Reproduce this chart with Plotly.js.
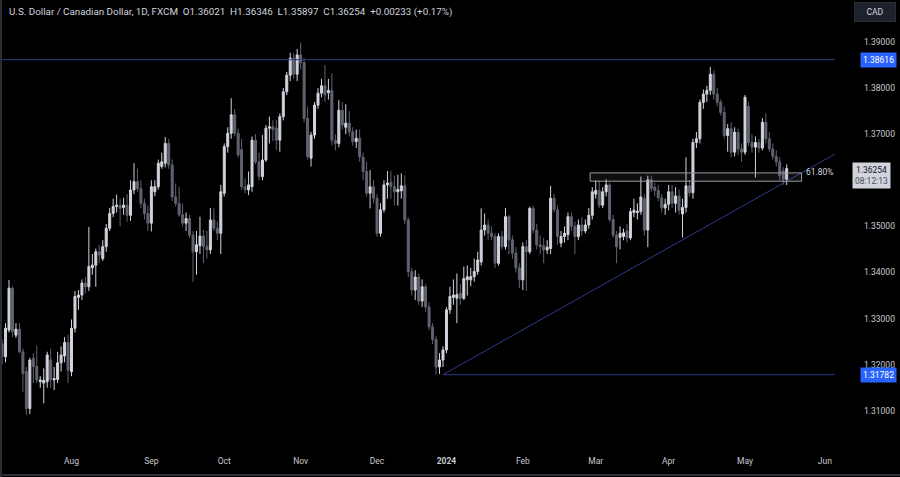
<!DOCTYPE html>
<html><head><meta charset="utf-8">
<script src="https://cdn.plot.ly/plotly-3.0.1.min.js"></script>
<style>html,body{margin:0;padding:0;background:#000;}#chart{width:900px;height:477px;}</style>
</head><body><div id="chart"></div>
<script>
// Trading days (FXCM daily bars)
const dates = [
'2023-07-03','2023-07-04','2023-07-05','2023-07-06','2023-07-07','2023-07-10','2023-07-11','2023-07-12','2023-07-13','2023-07-14','2023-07-17','2023-07-18','2023-07-19','2023-07-20','2023-07-21','2023-07-24','2023-07-25','2023-07-26','2023-07-27','2023-07-28','2023-07-31',
'2023-08-01','2023-08-02','2023-08-03','2023-08-04','2023-08-07','2023-08-08','2023-08-09','2023-08-10','2023-08-11','2023-08-14','2023-08-15','2023-08-16','2023-08-17','2023-08-18','2023-08-21','2023-08-22','2023-08-23','2023-08-24','2023-08-25','2023-08-28','2023-08-29','2023-08-30','2023-08-31',
'2023-09-01','2023-09-04','2023-09-05','2023-09-06','2023-09-07','2023-09-08','2023-09-11','2023-09-12','2023-09-13','2023-09-14','2023-09-15','2023-09-18','2023-09-19','2023-09-20','2023-09-21','2023-09-22','2023-09-25','2023-09-26','2023-09-27','2023-09-28','2023-09-29',
'2023-10-02','2023-10-03','2023-10-04','2023-10-05','2023-10-06','2023-10-09','2023-10-10','2023-10-11','2023-10-12','2023-10-13','2023-10-16','2023-10-17','2023-10-18','2023-10-19','2023-10-20','2023-10-23','2023-10-24','2023-10-25','2023-10-26','2023-10-27','2023-10-30','2023-10-31',
'2023-11-01','2023-11-02','2023-11-03','2023-11-06','2023-11-07','2023-11-08','2023-11-09','2023-11-10','2023-11-13','2023-11-14','2023-11-15','2023-11-16','2023-11-17','2023-11-20','2023-11-21','2023-11-22','2023-11-23','2023-11-24','2023-11-27','2023-11-28','2023-11-29','2023-11-30',
'2023-12-01','2023-12-04','2023-12-05','2023-12-06','2023-12-07','2023-12-08','2023-12-11','2023-12-12','2023-12-13','2023-12-14','2023-12-15','2023-12-18','2023-12-19','2023-12-20','2023-12-21','2023-12-22','2023-12-26','2023-12-27','2023-12-28','2023-12-29',
'2024-01-02','2024-01-03','2024-01-04','2024-01-05','2024-01-08','2024-01-09','2024-01-10','2024-01-11','2024-01-12','2024-01-15','2024-01-16','2024-01-17','2024-01-18','2024-01-19','2024-01-22','2024-01-23','2024-01-24','2024-01-25','2024-01-26','2024-01-29','2024-01-30','2024-01-31',
'2024-02-01','2024-02-02','2024-02-05','2024-02-06','2024-02-07','2024-02-08','2024-02-09','2024-02-12','2024-02-13','2024-02-14','2024-02-15','2024-02-16','2024-02-19','2024-02-20','2024-02-21','2024-02-22','2024-02-23','2024-02-26','2024-02-27','2024-02-28','2024-02-29',
'2024-03-01','2024-03-04','2024-03-05','2024-03-06','2024-03-07','2024-03-08','2024-03-11','2024-03-12','2024-03-13','2024-03-14','2024-03-15','2024-03-18','2024-03-19','2024-03-20','2024-03-21','2024-03-22','2024-03-25','2024-03-26','2024-03-27','2024-03-28','2024-03-29',
'2024-04-01','2024-04-02','2024-04-03','2024-04-04','2024-04-05','2024-04-08','2024-04-09','2024-04-10','2024-04-11','2024-04-12','2024-04-15','2024-04-16','2024-04-17','2024-04-18','2024-04-19','2024-04-22','2024-04-23','2024-04-24','2024-04-25','2024-04-26','2024-04-29','2024-04-30',
'2024-05-01','2024-05-02','2024-05-03','2024-05-06','2024-05-07','2024-05-08','2024-05-09','2024-05-10','2024-05-13','2024-05-14','2024-05-15','2024-05-16','2024-05-17'
];
const open = [
1.3240,1.3246,1.3217,1.3275,1.3366,1.3264,1.3277,1.3228,1.3185,1.3105,1.3214,1.3196,1.3163,1.3160,1.3163,1.3210,1.3167,1.3168,1.3204,1.3219,1.3248,
1.3185,1.3279,1.3346,1.3351,1.3377,1.3369,1.3410,1.3416,1.3445,1.3430,1.3456,1.3496,1.3528,1.3543,1.3546,1.3541,1.3546,1.3524,1.3579,1.3597,1.3582,1.3550,1.3528,
1.3507,1.3575,1.3586,1.3630,1.3637,1.3680,1.3633,1.3564,1.3550,1.3525,1.3507,1.3517,1.3481,1.3445,1.3458,1.3479,1.3456,1.3449,1.3514,1.3496,1.3485,
1.3572,1.3673,1.3702,1.3742,1.3702,1.3666,1.3586,1.3579,1.3586,1.3687,1.3640,1.3608,1.3644,1.3713,1.3716,1.3713,1.3687,1.3738,1.3792,1.3828,1.3865,1.3830,
1.3872,1.3855,1.3734,1.3648,1.3698,1.3763,1.3789,1.3805,1.3790,1.3795,1.3687,1.3680,1.3752,1.3715,1.3724,1.3705,1.3684,1.3691,1.3650,1.3619,1.3572,1.3586,
1.3561,1.3485,1.3536,1.3590,1.3596,1.3586,1.3575,1.3577,1.3588,1.3514,1.3402,1.3362,1.3390,1.3338,1.3369,1.3325,1.3282,1.3255,1.3195,1.3210,
1.3232,1.3319,1.3346,1.3344,1.3355,1.3344,1.3384,1.3384,1.3391,1.3402,1.3423,1.3492,1.3503,1.3485,1.3478,1.3420,1.3478,1.3456,1.3521,1.3471,1.3442,1.3410,
1.3384,1.3456,1.3445,1.3539,1.3492,1.3460,1.3458,1.3449,1.3452,1.3561,1.3536,1.3464,1.3478,1.3482,1.3521,1.3500,1.3478,1.3503,1.3490,1.3503,1.3524,
1.3570,1.3578,1.3546,1.3575,1.3590,1.3515,1.3481,1.3476,1.3478,1.3490,1.3475,1.3530,1.3530,1.3532,1.3560,1.3492,1.3601,1.3585,1.3578,1.3562,1.3540,
1.3548,1.3575,1.3550,1.3566,1.3527,1.3541,1.3588,1.3573,1.3682,1.3690,1.3769,1.3787,1.3795,1.3830,1.3787,1.3769,1.3747,1.3697,1.3712,1.3661,1.3704,1.3668,
1.3661,1.3760,1.3682,1.3672,1.3682,1.3670,1.3726,1.3690,1.3668,1.3652,1.3640,1.3620,1.36021
];
const high = [
1.3262,1.3255,1.3290,1.3384,1.3370,1.3290,1.3290,1.3235,1.3195,1.3215,1.3225,1.3241,1.3175,1.3192,1.3228,1.3235,1.3195,1.3228,1.3240,1.3260,1.3265,
1.3298,1.3360,1.3362,1.3385,1.3390,1.3499,1.3440,1.3452,1.3460,1.3470,1.3505,1.3540,1.3560,1.3569,1.3560,1.3562,1.3570,1.3600,1.3637,1.3625,1.3600,1.3560,1.3545,
1.3600,1.3600,1.3645,1.3660,1.3694,1.3690,1.3645,1.3593,1.3586,1.3550,1.3530,1.3525,1.3490,1.3490,1.3521,1.3492,1.3490,1.3540,1.3539,1.3510,1.3590,
1.3680,1.3715,1.3778,1.3755,1.3712,1.3690,1.3604,1.3619,1.3695,1.3700,1.3660,1.3698,1.3720,1.3738,1.3730,1.3731,1.3745,1.3800,1.3835,1.3877,1.3875,1.3885,
1.3899,1.3865,1.3760,1.3705,1.3770,1.3800,1.3820,1.3850,1.3820,1.3832,1.3700,1.3774,1.3770,1.3765,1.3750,1.3715,1.3710,1.3710,1.3660,1.3640,1.3622,1.3600,
1.3570,1.3550,1.3600,1.3620,1.3620,1.3610,1.3612,1.3615,1.3611,1.3520,1.3410,1.3405,1.3398,1.3385,1.3375,1.3335,1.3290,1.3262,1.3225,1.3240,
1.3325,1.3369,1.3385,1.3398,1.3375,1.3413,1.3415,1.3410,1.3430,1.3445,1.3539,1.3528,1.3515,1.3500,1.3485,1.3485,1.3490,1.3540,1.3525,1.3480,1.3455,1.3420,
1.3465,1.3470,1.3543,1.3545,1.3505,1.3480,1.3475,1.3470,1.3588,1.3570,1.3545,1.3490,1.3500,1.3530,1.3530,1.3510,1.3515,1.3520,1.3515,1.3540,1.3585,
1.3600,1.3600,1.3585,1.3602,1.3595,1.3525,1.3490,1.3500,1.3495,1.3505,1.3540,1.3560,1.3550,1.3608,1.3570,1.3610,1.3610,1.3595,1.3590,1.3570,1.3560,
1.3590,1.3590,1.3585,1.3580,1.3560,1.3650,1.3600,1.3690,1.3705,1.3775,1.3797,1.3805,1.3846,1.3838,1.3800,1.3775,1.3760,1.3722,1.3726,1.3715,1.3712,1.3680,
1.3785,1.3770,1.3700,1.3695,1.3690,1.3735,1.3745,1.3705,1.3680,1.3665,1.3650,1.3628,1.36346
];
const low = [
1.3225,1.3200,1.3205,1.3270,1.3260,1.3258,1.3225,1.3141,1.3091,1.3093,1.3160,1.3160,1.3150,1.3116,1.3150,1.3150,1.3145,1.3160,1.3185,1.3205,1.3160,
1.3175,1.3270,1.3319,1.3340,1.3355,1.3360,1.3395,1.3369,1.3420,1.3425,1.3445,1.3490,1.3520,1.3530,1.3500,1.3525,1.3510,1.3512,1.3570,1.3575,1.3540,1.3515,1.3490,
1.3489,1.3565,1.3580,1.3625,1.3628,1.3625,1.3555,1.3543,1.3521,1.3500,1.3490,1.3475,1.3380,1.3395,1.3440,1.3420,1.3430,1.3440,1.3490,1.3470,1.3440,
1.3565,1.3660,1.3690,1.3695,1.3650,1.3579,1.3572,1.3568,1.3575,1.3635,1.3600,1.3600,1.3640,1.3680,1.3685,1.3666,1.3662,1.3730,1.3785,1.3815,1.3820,1.3815,
1.3840,1.3725,1.3645,1.3630,1.3690,1.3755,1.3780,1.3770,1.3775,1.3676,1.3665,1.3672,1.3710,1.3700,1.3695,1.3675,1.3670,1.3640,1.3600,1.3565,1.3539,1.3550,
1.3477,1.3478,1.3530,1.3560,1.3560,1.3545,1.3545,1.3560,1.3505,1.3390,1.3350,1.3340,1.3330,1.3325,1.3315,1.3275,1.3245,1.3178,1.3180,1.3195,
1.3225,1.3310,1.3330,1.3290,1.3330,1.3340,1.3350,1.3370,1.3380,1.3395,1.3415,1.3480,1.3470,1.3470,1.3410,1.3415,1.3450,1.3450,1.3440,1.3430,1.3400,1.3366,
1.3362,1.3360,1.3440,1.3485,1.3450,1.3440,1.3420,1.3440,1.3440,1.3530,1.3460,1.3455,1.3465,1.3470,1.3490,1.3440,1.3470,1.3480,1.3485,1.3495,1.3515,
1.3560,1.3540,1.3540,1.3565,1.3510,1.3475,1.3420,1.3450,1.3470,1.3465,1.3470,1.3520,1.3515,1.3525,1.3480,1.3455,1.3575,1.3565,1.3555,1.3530,1.3525,
1.3535,1.3540,1.3530,1.3525,1.3476,1.3530,1.3565,1.3560,1.3670,1.3680,1.3755,1.3770,1.3785,1.3775,1.3760,1.3740,1.3690,1.3662,1.3650,1.3652,1.3655,1.3640,
1.3655,1.3675,1.3660,1.3606,1.3660,1.3665,1.3680,1.3662,1.3645,1.3630,1.3600,1.3590,1.35897
];
const close = [
1.3246,1.3217,1.3279,1.3366,1.3272,1.3277,1.3228,1.3181,1.3105,1.3210,1.3196,1.3167,1.3167,1.3166,1.3221,1.3167,1.3170,1.3204,1.3221,1.3248,1.3188,
1.3279,1.3348,1.3351,1.3377,1.3369,1.3413,1.3416,1.3445,1.3438,1.3456,1.3496,1.3528,1.3543,1.3546,1.3539,1.3546,1.3524,1.3579,1.3597,1.3582,1.3550,1.3528,1.3507,
1.3586,1.3586,1.3637,1.3640,1.3680,1.3633,1.3564,1.3550,1.3525,1.3507,1.3517,1.3481,1.3445,1.3460,1.3479,1.3456,1.3449,1.3514,1.3496,1.3485,1.3575,
1.3673,1.3702,1.3742,1.3702,1.3655,1.3586,1.3580,1.3590,1.3687,1.3640,1.3608,1.3644,1.3713,1.3716,1.3710,1.3687,1.3738,1.3792,1.3828,1.3865,1.3830,1.3872,
1.3855,1.3734,1.3651,1.3698,1.3763,1.3789,1.3805,1.3785,1.3795,1.3687,1.3680,1.3752,1.3720,1.3724,1.3705,1.3684,1.3691,1.3651,1.3619,1.3572,1.3586,1.3561,
1.3485,1.3536,1.3590,1.3594,1.3586,1.3575,1.3580,1.3588,1.3514,1.3402,1.3362,1.3390,1.3338,1.3369,1.3325,1.3282,1.3255,1.3195,1.3210,1.3232,
1.3319,1.3348,1.3351,1.3352,1.3344,1.3387,1.3391,1.3391,1.3402,1.3427,1.3492,1.3503,1.3485,1.3478,1.3420,1.3478,1.3456,1.3521,1.3471,1.3442,1.3410,1.3384,
1.3456,1.3445,1.3539,1.3492,1.3460,1.3456,1.3449,1.3455,1.3561,1.3536,1.3478,1.3478,1.3485,1.3521,1.3500,1.3478,1.3503,1.3490,1.3503,1.3524,1.3575,
1.3578,1.3546,1.3575,1.3590,1.3515,1.3481,1.3456,1.3485,1.3486,1.3475,1.3532,1.3535,1.3533,1.3564,1.3492,1.3601,1.3582,1.3578,1.3562,1.3540,1.3548,
1.3575,1.3550,1.3566,1.3535,1.3541,1.3588,1.3573,1.3682,1.3690,1.3769,1.3787,1.3795,1.3830,1.3787,1.3769,1.3747,1.3697,1.3712,1.3661,1.3704,1.3668,1.3661,
1.3780,1.3682,1.3672,1.3682,1.3670,1.3726,1.3690,1.3668,1.3652,1.3640,1.3610,1.36021,1.36254
];
const holidays = ['2023-12-25','2024-01-01'];
const monthTickDates = ['2023-08-01','2023-09-01','2023-10-02','2023-11-01','2023-12-01','2024-01-02','2024-02-01','2024-03-01','2024-04-01','2024-05-01','2024-06-03'];
const monthTickText = ['Aug','Sep','Oct','Nov','Dec','<b>2024</b>','Feb','Mar','Apr','May','Jun'];
const priceTicks = [1.31,1.32,1.33,1.34,1.35,1.37,1.38,1.39];
// Drawings
const resistance = 1.38616;
const support = 1.31782;
const drawStart = '2023-12-29 12:00';
const trendEnd = ['2024-06-06 10:00', 1.3657];
const zone = {x0:'2024-02-28 21:00', x1:'2024-05-23 19:00', y0:1.3598, y1:1.3616, label:'61.80%'};
const countdown = '08:12:13';

const xRange = ['2023-07-03 21:40','2024-06-06 10:00'];
const yRange = [1.30366, 1.39911];
const FONT = 'Roboto, "Liberation Sans", Arial, sans-serif';

const n = close.length;
const lastO = open[n-1], lastH = high[n-1], lastL = low[n-1], lastC = close[n-1];
const chg = lastC - close[n-2];
const pct = chg / close[n-2] * 100;
const sp = '\u00a0\u00a0';
const title = 'U.S. Dollar / Canadian Dollar, 1D, FXCM' + sp + 'O' + lastO.toFixed(5) + sp + 'H' + lastH.toFixed(5) + sp + 'L' + lastL.toFixed(5) + sp + 'C' + lastC.toFixed(5) + sp + (chg>=0?'+':'') + chg.toFixed(5) + ' (' + (pct>=0?'+':'') + pct.toFixed(2) + '%)';

const trace = {
  type:'candlestick',
  x: dates.map(d => d + ' 12:00'),
  open, high, low, close,
  increasing:{line:{color:'#d1d4dc', width:1}, fillcolor:'#d1d4dc'},
  decreasing:{line:{color:'#606370', width:1}, fillcolor:'#606370'},
  whiskerwidth:0,
  hoverinfo:'skip'
};

const lineCol = '#2f3a8a';
const W = 835, H = 440;
const layout = {
  width:900, height:477,
  margin:{l:0, r:65, t:0, b:37},
  paper_bgcolor:'#000000', plot_bgcolor:'#000000',
  showlegend:false,
  boxgap:0.18,
  font:{family:FONT, color:'#c8cad0', size:8},
  xaxis:{
    type:'date', range:xRange,
    rangebreaks:[{bounds:['sat','mon']},{values:holidays}],
    rangeslider:{visible:false},
    showgrid:false, zeroline:false, showline:false, ticks:'',
    tickvals: monthTickDates.map(d => d + ' 12:00'), ticktext: monthTickText,
    tickfont:{family:FONT, size:8.5, color:'#c8cad0'},
    ticklabelstandoff: 14, fixedrange:true
  },
  yaxis:{
    side:'right', range:yRange,
    showgrid:false, zeroline:false, showline:false, ticks:'',
    tickvals: priceTicks, ticktext: priceTicks.map(v => v.toFixed(5)),
    tickfont:{family:FONT, size:8.5, color:'#c8cad0'},
    ticklabelstandoff: 28, fixedrange:true
  },
  shapes:[
    {type:'line', xref:'paper', yref:'y', x0:0, x1:1, y0:resistance, y1:resistance, line:{color:lineCol, width:1}},
    {type:'line', xref:'x', yref:'y', x0:drawStart, x1:xRange[1], y0:support, y1:support, line:{color:lineCol, width:1}},
    {type:'line', xref:'x', yref:'y', x0:drawStart, x1:trendEnd[0], y0:support, y1:trendEnd[1], line:{color:lineCol, width:1}},
    {type:'rect', xref:'x', yref:'y', x0:zone.x0, x1:zone.x1, y0:zone.y0, y1:zone.y1, line:{color:'#9a9ca3', width:1}, fillcolor:'rgba(150,150,160,0.10)', layer:'above'},
    {type:'line', xref:'paper', yref:'paper', x0:0.0012, x1:0.0012, y0:-37/H, y1:1, line:{color:'#2a2e39', width:2}},
    {type:'line', xref:'paper', yref:'paper', x0:0, x1:900/W, y0:-35/H, y1:-35/H, line:{color:'#2a2e39', width:2}}
  ],
  annotations:[
    {xref:'paper', yref:'paper', x:7/W, y:1-12/H, xanchor:'left', yanchor:'middle', showarrow:false, text:title, font:{family:FONT, size:9.8, color:'#d1d4dc'}},
    {xref:'paper', yref:'paper', x:854/W, y:1-2/H, xanchor:'left', yanchor:'top', showarrow:false, text:'CAD', width:38, height:16, align:'center', bgcolor:'#1e222d', bordercolor:'#2a2e39', borderwidth:1, borderpad:1, font:{family:FONT, size:8.5, color:'#d1d4dc'}},
    {xref:'paper', yref:'y', x:860/W, y:resistance, xanchor:'left', yanchor:'middle', showarrow:false, text:resistance.toFixed(5), bgcolor:'#2962ff', borderpad:2, font:{family:FONT, size:8.5, color:'#ffffff'}},
    {xref:'paper', yref:'y', x:860/W, y:support, xanchor:'left', yanchor:'middle', showarrow:false, text:support.toFixed(5), bgcolor:'#2962ff', borderpad:2, font:{family:FONT, size:8.5, color:'#ffffff'}},
    {xref:'paper', yref:'y', x:852/W, y:lastC, xanchor:'left', yanchor:'top', yshift:7, showarrow:false, align:'center', text:lastC.toFixed(5) + '<br><span style="color:#4a4d57">' + countdown + '</span>', bgcolor:'#d1d4dc', borderpad:2, font:{family:FONT, size:8.5, color:'#131722'}},
    {xref:'paper', yref:'y', x:804/W, y:zone.y1 + 0.0002, xanchor:'left', yanchor:'middle', showarrow:false, text:zone.label, font:{family:FONT, size:8.5, color:'#d1d4dc'}}
  ]
};
Plotly.newPlot('chart', [trace], layout, {displayModeBar:false, staticPlot:true});
</script></body></html>
